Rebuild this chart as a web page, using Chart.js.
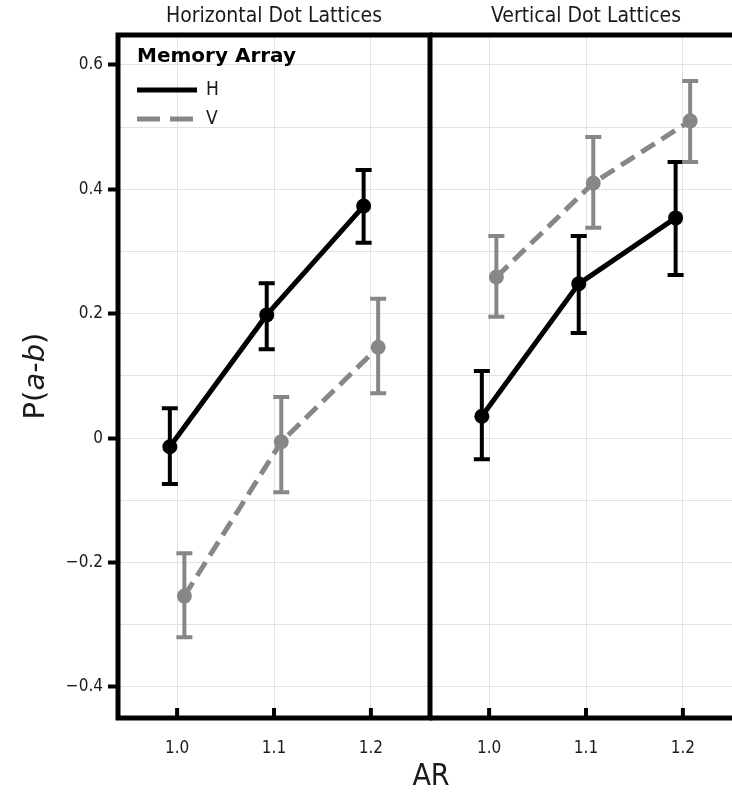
<!DOCTYPE html>
<html>
<head>
<meta charset="utf-8">
<script src="https://cdn.jsdelivr.net/npm/chart.js@4.4.1/dist/chart.umd.min.js"></script>
<style>
  html, body { margin: 0; padding: 0; background: #fff; overflow: hidden; }
  #wrap { position: relative; width: 732px; height: 794px; overflow: hidden; }
  #leftPanel { position: absolute; left: 0; top: 0; z-index: 2; }
  #rightPanel { position: absolute; left: 430px; top: 0; z-index: 1; }
</style>
</head>
<body>
<div id="wrap">
  <canvas id="rightPanel" width="312" height="794"></canvas>
  <canvas id="leftPanel" width="460" height="794"></canvas>
</div>
<script>
const arLevels = [1.0, 1.1, 1.2];
const yTickValues = [-0.4, -0.3, -0.2, -0.1, 0, 0.1, 0.2, 0.3, 0.4, 0.5, 0.6];
const panelTitles = ['Horizontal Dot Lattices', 'Vertical Dot Lattices'];
const seriesNames = ['H', 'V'];

// horizontal dot lattices panel
const horizH = [-0.014, 0.198, 0.373];
const horizHLow = [-0.074, 0.143, 0.314];
const horizHHigh = [0.048, 0.249, 0.431];
const horizV = [-0.254, -0.006, 0.146];
const horizVLow = [-0.320, -0.087, 0.072];
const horizVHigh = [-0.185, 0.066, 0.224];

// vertical dot lattices panel
const vertH = [0.035, 0.248, 0.354];
const vertHLow = [-0.034, 0.169, 0.262];
const vertHHigh = [0.108, 0.325, 0.444];
const vertV = [0.259, 0.410, 0.510];
const vertVLow = [0.195, 0.338, 0.444];
const vertVHigh = [0.325, 0.484, 0.574];

const xMin = 0.939, xMax = 1.261;
const yMin = -0.45, yMax = 0.648;
const dodge = 0.0075;
const colorH = '#000000';
const colorV = '#878787';
const gridColor = '#e2e2e2';
const textColor = '#1a1a1a';
const condensed = '"DejaVu Sans Condensed", "DejaVu Sans", sans-serif';
const regular = '"DejaVu Sans", sans-serif';

function makePoints(means, lows, highs, shift) {
    return arLevels.map((ar, i) => ({ x: ar + shift, y: means[i], lo: lows[i], hi: highs[i] }));
}

const isMajor = v => Math.abs(Math.round(v * 10)) % 2 === 0;
const fmtY = v => {
    if (Math.abs(v) < 1e-9) return '0';
    const s = Math.abs(v).toFixed(1);
    return v < 0 ? '\u2212' + s : s;
};

const decorPlugin = {
    id: 'decor',
    beforeDatasetsDraw(chart) {
        const ctx = chart.ctx;
        const yScale = chart.scales.y;
        chart.data.datasets.forEach((ds, di) => {
            const meta = chart.getDatasetMeta(di);
            ctx.save();
            ctx.strokeStyle = ds.borderColor;
            ctx.lineWidth = 4;
            meta.data.forEach((pt, i) => {
                const d = ds.data[i];
                const top = yScale.getPixelForValue(d.hi);
                const bot = yScale.getPixelForValue(d.lo);
                ctx.beginPath();
                ctx.moveTo(pt.x, top);
                ctx.lineTo(pt.x, bot);
                ctx.moveTo(pt.x - 8, top);
                ctx.lineTo(pt.x + 8, top);
                ctx.moveTo(pt.x - 8, bot);
                ctx.lineTo(pt.x + 8, bot);
                ctx.stroke();
            });
            ctx.restore();
        });
    },
    afterDraw(chart, args, opts) {
        const { ctx, chartArea: a } = chart;
        const xScale = chart.scales.x;
        ctx.save();

        // frame
        ctx.strokeStyle = '#000';
        ctx.lineWidth = 5;
        ctx.lineCap = 'square';
        ctx.beginPath();
        ctx.moveTo(a.left, a.top);
        ctx.lineTo(a.right, a.top);
        ctx.moveTo(a.left, a.bottom);
        ctx.lineTo(a.right, a.bottom);
        if (opts.first) {
            ctx.moveTo(a.left, a.top);
            ctx.lineTo(a.left, a.bottom);
            ctx.moveTo(a.right, a.top);
            ctx.lineTo(a.right, a.bottom);
        }
        ctx.stroke();

        // ticks pointing into the panel
        ctx.lineCap = 'butt';
        ctx.lineWidth = 4;
        ctx.beginPath();
        arLevels.forEach(v => {
            const px = xScale.getPixelForValue(v);
            ctx.moveTo(px, a.bottom);
            ctx.lineTo(px, a.bottom - 10);
        });
        ctx.stroke();

        // panel title
        ctx.fillStyle = textColor;
        ctx.font = '21px ' + condensed;
        ctx.textAlign = 'center';
        ctx.textBaseline = 'middle';
        ctx.fillText(opts.title, (a.left + a.right) / 2, 17);

        if (opts.first) {
            // legend
            ctx.textAlign = 'left';
            ctx.fillStyle = '#000';
            ctx.font = 'bold 20px ' + regular;
            ctx.fillText('Memory Array', 137, 57);
            ctx.lineWidth = 5;
            ctx.strokeStyle = colorH;
            ctx.beginPath();
            ctx.moveTo(137, 90);
            ctx.lineTo(197, 90);
            ctx.stroke();
            ctx.strokeStyle = colorV;
            ctx.setLineDash([23, 10]);
            ctx.beginPath();
            ctx.moveTo(137, 119);
            ctx.lineTo(193, 119);
            ctx.stroke();
            ctx.setLineDash([]);
            ctx.fillStyle = textColor;
            ctx.font = '19px ' + condensed;
            ctx.fillText(seriesNames[0], 206, 90);
            ctx.fillText(seriesNames[1], 206, 119);

            // x title, centred between the panels
            ctx.textAlign = 'center';
            ctx.font = '30px ' + condensed;
            ctx.fillText('AR', 431, 777);

            // y title with italic a and b
            const parts = [['P(', false], ['a', true], ['-', false], ['b', true], [')', false]];
            const fontFor = it => (it ? 'italic ' : '') + '29px ' + regular;
            let total = 0;
            parts.forEach(([t, it]) => { ctx.font = fontFor(it); total += ctx.measureText(t).width; });
            ctx.translate(36, 376);
            ctx.rotate(-Math.PI / 2);
            ctx.textAlign = 'left';
            let cx = -total / 2;
            parts.forEach(([t, it]) => {
                ctx.font = fontFor(it);
                ctx.fillText(t, cx, 0);
                cx += ctx.measureText(t).width;
            });
        }
        ctx.restore();
    }
};

function makePanel(canvasId, title, hMeans, hLow, hHigh, vMeans, vLow, vHigh, first) {
    const canvas = document.getElementById(canvasId);
    const ctx = canvas.getContext('2d');
    return new Chart(ctx, {
        type: 'line',
        data: {
            datasets: [{
                label: seriesNames[0],
                data: makePoints(hMeans, hLow, hHigh, -dodge),
                borderColor: colorH,
                backgroundColor: colorH,
                borderWidth: 5,
                pointRadius: 7.5,
                pointBorderWidth: 0,
                pointBackgroundColor: colorH,
                tension: 0,
            }, {
                label: seriesNames[1],
                data: makePoints(vMeans, vLow, vHigh, dodge),
                borderColor: colorV,
                backgroundColor: colorV,
                borderWidth: 5,
                borderDash: [16, 8],
                pointRadius: 7.5,
                pointBorderWidth: 0,
                pointBackgroundColor: colorV,
                tension: 0,
            }],
        },
        options: {
            responsive: false,
            animation: false,
            devicePixelRatio: 1,
            layout: {
                autoPadding: false,
                padding: { top: 35, right: first ? 30 : 0, left: 0, bottom: 0 },
            },
            plugins: {
                legend: { display: false },
                tooltip: { enabled: false },
                decor: { title: title, first: first },
            },
            scales: {
                x: {
                    type: 'linear',
                    min: xMin,
                    max: xMax,
                    afterBuildTicks: s => { s.ticks = arLevels.map(v => ({ value: v })); },
                    afterFit: s => { s.height = 76; s.paddingLeft = 0; s.paddingRight = 0; },
                    border: { display: false },
                    grid: { color: gridColor, lineWidth: 1, drawTicks: false },
                    ticks: {
                        padding: 20,
                        color: textColor,
                        font: { family: condensed, size: 17 },
                        callback: v => v.toFixed(1),
                    },
                },
                y: {
                    type: 'linear',
                    min: yMin,
                    max: yMax,
                    afterBuildTicks: s => { s.ticks = yTickValues.map(v => ({ value: v })); },
                    afterFit: s => { s.width = first ? 118 : 0; s.paddingLeft = 0; s.paddingRight = 0; },
                    border: { display: false },
                    grid: {
                        color: gridColor,
                        lineWidth: 1,
                        drawTicks: first,
                        tickLength: 10,
                        tickWidth: 4,
                        tickColor: c => (c.tick && isMajor(c.tick.value)) ? '#000' : 'rgba(0,0,0,0)',
                    },
                    ticks: {
                        display: first,
                        padding: 5,
                        color: textColor,
                        font: { family: condensed, size: 17 },
                        callback: v => isMajor(v) ? fmtY(v) : '',
                    },
                },
            },
        },
        plugins: [decorPlugin],
    });
}

makePanel('leftPanel', panelTitles[0], horizH, horizHLow, horizHHigh, horizV, horizVLow, horizVHigh, true);
makePanel('rightPanel', panelTitles[1], vertH, vertHLow, vertHHigh, vertV, vertVLow, vertVHigh, false);
</script>
</body>
</html>
